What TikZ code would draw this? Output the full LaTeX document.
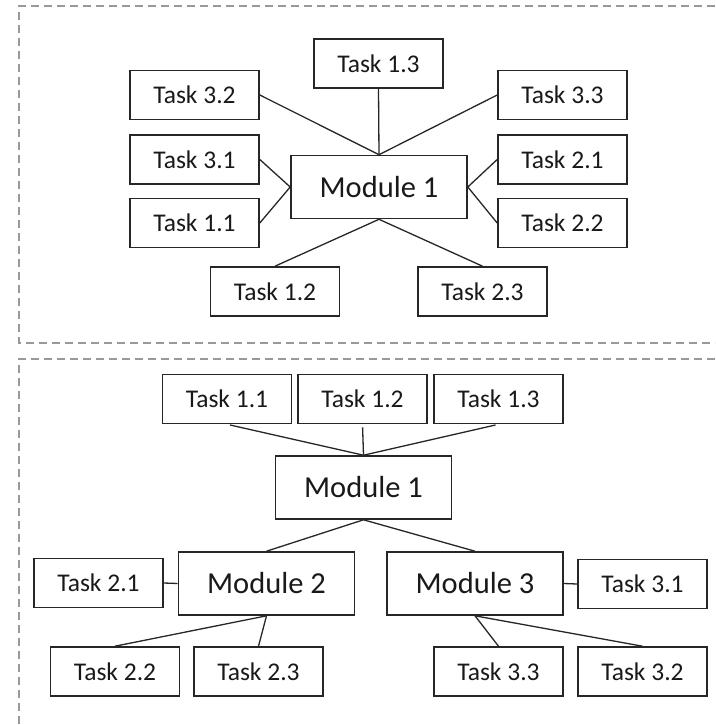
\documentclass[tikz,border=0pt]{standalone}
\usepackage{fontspec}
\setmainfont{Carlito}
\begin{document}
\begin{tikzpicture}[x=1pt,y=-1pt,
  task/.style={draw=black!85,line width=1.6pt,minimum width=129pt,minimum height=49pt,inner sep=0pt,font=\fontsize{25.5}{29}\selectfont,text=black!90},
  module/.style={draw=black!85,line width=1.6pt,minimum width=176pt,minimum height=63pt,inner sep=0pt,font=\fontsize{30.5}{34}\selectfont,text=black!90},
  link/.style={draw=black!85,line width=1.3pt},
  frame/.style={draw=black!40,line width=1.3pt,dash pattern=on 8pt off 5pt}]
\useasboundingbox (0,0) rectangle (715,725);
% frames
\draw[frame] (715,6) -- (19,6) -- (19,343) -- (715,343);
\draw[frame] (715,359) -- (19,359) -- (19,725);
% top section
\node[module] (m1) at (379,187) {Module 1};
\node[task] (t13) at (378.5,63.5) {Task 1.3};
\node[task] (t32) at (194.5,95) {Task 3.2};
\node[task] (t33) at (562.5,95) {Task 3.3};
\node[task] (t31) at (194.5,159.5) {Task 3.1};
\node[task] (t11) at (194.5,223) {Task 1.1};
\node[task] (t21) at (562.5,159.5) {Task 2.1};
\node[task] (t22) at (562.5,223) {Task 2.2};
\node[task] (t12) at (275,291.5) {Task 1.2};
\node[task] (t23) at (482.5,291.5) {Task 2.3};
\draw[link] (t13.south) -- (m1.north);
\draw[link] (t32.east) -- (m1.north);
\draw[link] (t33.west) -- (m1.north);
\draw[link] (t31.east) -- (m1.west);
\draw[link] (t11.east) -- (m1.west);
\draw[link] (t21.west) -- (m1.east);
\draw[link] (t22.west) -- (m1.east);
\draw[link] (t12.north) -- (m1.south);
\draw[link] (t23.north) -- (m1.south);
% bottom section
\node[module] (bm1) at (363.5,487.5) {Module 1};
\node[task] (b11) at (227,399) {Task 1.1};
\node[task] (b12) at (362.5,399) {Task 1.2};
\node[task] (b13) at (498.5,399) {Task 1.3};
\node[module] (bm2) at (266.5,583.5) {Module 2};
\node[module] (bm3) at (475,583.5) {Module 3};
\node[task] (b21) at (98.5,583) {Task 2.1};
\node[task] (b22) at (115,671.5) {Task 2.2};
\node[task] (b23) at (258.5,671.5) {Task 2.3};
\node[task] (b31) at (642.5,584) {Task 3.1};
\node[task] (b33) at (498.5,671.5) {Task 3.3};
\node[task] (b32) at (642.5,671.5) {Task 3.2};
\draw[link,shorten <=3pt] (b11.south) -- (bm1.north);
\draw[link,shorten <=3pt] (b12.south) -- (bm1.north);
\draw[link,shorten <=3pt] (b13.south) -- (bm1.north);
\draw[link] (bm1.south) -- (bm2.north);
\draw[link] (bm1.south) -- (bm3.north);
\draw[link] (b21.east) -- (bm2.west);
\draw[link] (bm2.south) -- (b22.north);
\draw[link] (bm2.south) -- (b23.north);
\draw[link] (bm3.east) -- (b31.west);
\draw[link] (bm3.south) -- (b33.north);
\draw[link] (bm3.south) -- (b32.north);
\end{tikzpicture}
\end{document}
